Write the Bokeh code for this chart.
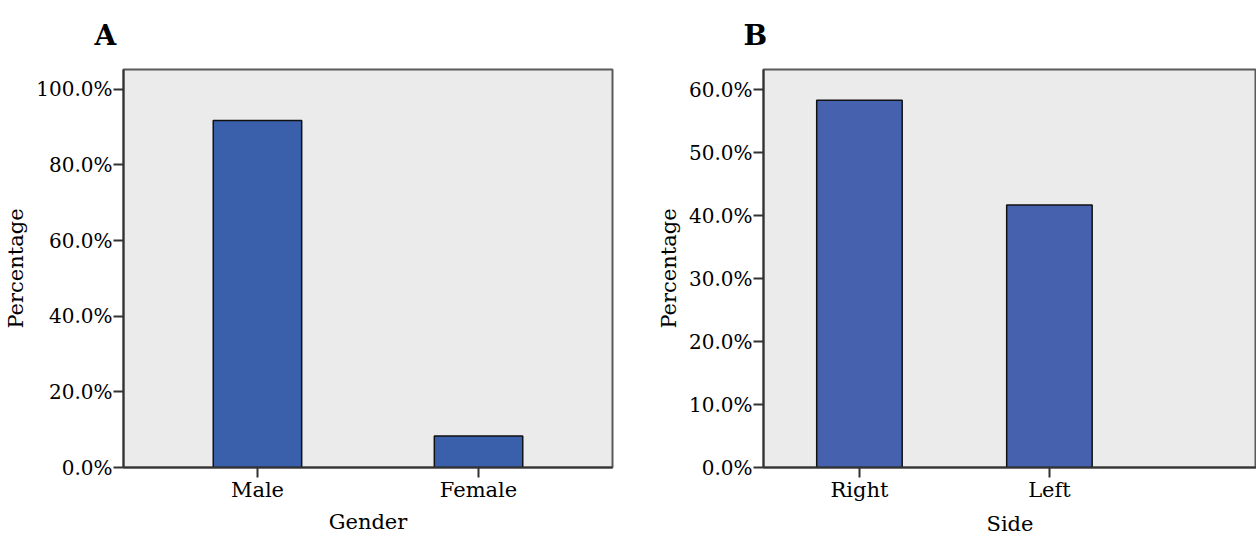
from bokeh.plotting import figure
from bokeh.layouts import row
from bokeh.models import (Range1d, FixedTicker, PrintfTickFormatter,
                          ColumnDataSource)
from bokeh.embed import file_html
from bokeh.resources import INLINE
import numpy as np

# ---- data ----
gender_cats = ["Male", "Female"]
gender_pct = [91.7, 8.3]
side_cats = ["Right", "Left"]
side_pct = [58.3, 41.7]
gender_ticks = [0, 20, 40, 60, 80, 100]
side_ticks = [0, 10, 20, 30, 40, 50, 60]

FONT = "DejaVu Serif"
BG = "#ebebeb"


def style(p, cats, xpos, xlabel, yticks, x_label_standoff, title_offset):
    p.background_fill_color = BG
    p.border_fill_color = "white"
    p.outline_line_color = "#5a5a5a"
    p.outline_line_width = 2
    p.xgrid.visible = False
    p.ygrid.visible = False
    p.yaxis.ticker = FixedTicker(ticks=yticks)
    p.yaxis.formatter = PrintfTickFormatter(format="%.1f%%")
    p.xaxis.ticker = FixedTicker(ticks=list(xpos))
    p.xaxis.major_label_overrides = {float(x): c for x, c in zip(xpos, cats)}
    for ax in (p.xaxis, p.yaxis):
        ax.axis_line_color = "#333333"
        ax.axis_line_width = 2
        ax.major_tick_line_color = "#333333"
        ax.major_tick_line_width = 2
        ax.major_tick_in = 0
        ax.major_tick_out = 10
        ax.minor_tick_line_color = None
        ax.major_label_text_font = FONT
        ax.major_label_text_color = "black"
        ax.axis_label_text_font = FONT
        ax.axis_label_text_font_size = "21px"
        ax.axis_label_text_font_style = "normal"
        ax.axis_label_text_color = "black"
    p.yaxis.major_label_text_font_size = "20px"
    p.xaxis.major_label_text_font_size = "21px"
    p.yaxis.major_label_standoff = 1
    p.yaxis.axis_label_standoff = 5
    p.xaxis.major_label_standoff = 0
    p.xaxis.axis_label_standoff = x_label_standoff
    p.xaxis.axis_label = xlabel
    p.yaxis.axis_label = "Percentage"
    # panel letter as the figure title
    p.title.text_font = FONT
    p.title.text_font_size = "28px"
    p.title.text_font_style = "bold"
    p.title.text_color = "black"
    p.title.align = "left"
    p.title.vertical_align = "top"
    p.title.standoff = 32
    p.title.offset = title_offset


# ---- Panel A ----
xA = np.arange(len(gender_cats)) + 0.5
srcA = ColumnDataSource(dict(x=xA, val=gender_pct))
pA = figure(width=640, height=540, output_backend="svg", toolbar_location=None,
            x_range=Range1d(-0.106, 2.106), y_range=Range1d(0, 105.2), title="A",
            min_border_left=123, min_border_right=28,
            min_border_top=69, min_border_bottom=70)
pA.vbar(x="x", top="val", width=0.4, source=srcA, fill_color="#3a5fab",
        line_color="#111111", line_width=1.5)
style(pA, gender_cats, xA, "Gender", gender_ticks, 5, -29)

# ---- Panel B ----
xB = np.arange(len(side_cats)) + 0.5
srcB = ColumnDataSource(dict(x=xB, val=side_pct))
pB = figure(width=616, height=540, output_backend="svg", toolbar_location=None,
            x_range=Range1d(-0.005, 2.59), y_range=Range1d(0, 63.2), title="B",
            min_border_left=123, min_border_right=0,
            min_border_top=69, min_border_bottom=73)
pB.vbar(x="x", top="val", width=0.45, source=srcB, fill_color="#4661ad",
        line_color="#111111", line_width=1.5)
style(pB, side_cats, xB, "Side", side_ticks, 7, -20)

layout = row(pA, pB)
open("out.html", "w").write(file_html(layout, INLINE))
